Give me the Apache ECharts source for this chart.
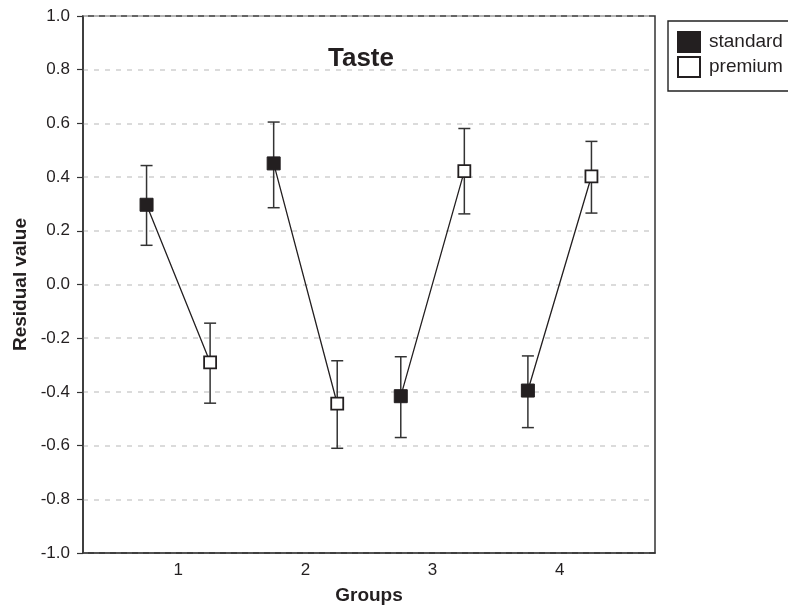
<!DOCTYPE html>
<html>
<head>
<meta charset="utf-8">
<script src="https://cdn.jsdelivr.net/npm/echarts@6/dist/echarts.min.js"></script>
<style>
  html, body { margin: 0; padding: 0; background: #fff; }
  #chart { width: 788px; height: 610px; }
</style>
</head>
<body>
<div id="chart"></div>
<script>
// Residual taste scores per group, standard vs premium, with error ranges
const groups = [1, 2, 3, 4];
const standardMean = [0.297, 0.451, -0.416, -0.395];
const standardHigh = [0.443, 0.605, -0.269, -0.266];
const standardLow  = [0.146, 0.286, -0.570, -0.533];
const premiumMean  = [-0.290, -0.444, 0.422, 0.403];
const premiumHigh  = [-0.144, -0.284, 0.581, 0.533];
const premiumLow   = [-0.442, -0.610, 0.263, 0.266];
const yTicks = [-1.0, -0.8, -0.6, -0.4, -0.2, 0.0, 0.2, 0.4, 0.6, 0.8, 1.0];

const ink = '#231f20';
const font = '"Liberation Sans", Arial, Helvetica, sans-serif';
const shift = 0.25; // standard sits left of the group, premium right

const stdPts = groups.map((g, i) => [g - shift, standardMean[i]]);
const premPts = groups.map((g, i) => [g + shift, premiumMean[i]]);

// one segment per group, broken between groups
const links = [];
groups.forEach((g, i) => {
  links.push(stdPts[i], premPts[i], '-');
});

const stdBars = groups.map((g, i) => [g - shift, standardLow[i], standardHigh[i]]);
const premBars = groups.map((g, i) => [g + shift, premiumLow[i], premiumHigh[i]]);

function errorBar(params, api) {
  const x = api.value(0);
  const top = api.coord([x, api.value(2)]);
  const bot = api.coord([x, api.value(1)]);
  const hw = 6;
  const st = { stroke: '#333', lineWidth: 1.5 };
  return {
    type: 'group',
    children: [
      { type: 'line', shape: { x1: top[0], y1: top[1], x2: bot[0], y2: bot[1] }, style: st },
      { type: 'line', shape: { x1: top[0] - hw, y1: top[1], x2: top[0] + hw, y2: top[1] }, style: st },
      { type: 'line', shape: { x1: bot[0] - hw, y1: bot[1], x2: bot[0] + hw, y2: bot[1] }, style: st }
    ]
  };
}

const chart = echarts.init(document.getElementById('chart'), null, { renderer: 'canvas' });
chart.setOption({
  animation: false,
  backgroundColor: '#fff',
  textStyle: { fontFamily: font, color: ink },
  title: {
    text: 'Taste',
    left: 323,
    top: 41,
    textStyle: { fontFamily: font, fontSize: 26, fontWeight: 'bold', color: ink }
  },
  legend: {
    data: ['standard', 'premium'],
    orient: 'vertical',
    left: 668,
    top: 21,
    icon: 'rect',
    itemWidth: 22,
    itemHeight: 20,
    itemGap: 3,
    padding: [10, 60, 13, 9],
    borderColor: '#222',
    borderWidth: 1.4,
    textStyle: { fontFamily: font, fontSize: 19, color: ink, padding: [0, 0, 0, 4] }
  },
  grid: {
    left: 83, right: 133, top: 16, bottom: 54,
    show: true, borderColor: '#333', borderWidth: 1.5, backgroundColor: 'transparent'
  },
  xAxis: {
    type: 'value',
    min: 0.25,
    max: 4.75,
    name: 'Groups',
    nameLocation: 'middle',
    nameGap: 33,
    nameTextStyle: { fontFamily: font, fontSize: 19, fontWeight: 'bold', color: ink },
    axisLine: { show: true, onZero: false, lineStyle: { color: '#333', width: 1.5 } },
    axisTick: { show: false },
    splitLine: { show: false },
    axisLabel: {
      customValues: groups,
      margin: 9,
      fontFamily: font, fontSize: 17, color: ink,
      formatter: v => String(v)
    }
  },
  yAxis: {
    type: 'value',
    min: -1,
    max: 1,
    interval: 0.2,
    name: 'Residual value',
    nameLocation: 'middle',
    nameGap: 52,
    nameTextStyle: { fontFamily: font, fontSize: 19, fontWeight: 'bold', color: ink },
    axisLine: { show: true, onZero: false, lineStyle: { color: '#333', width: 1.5 } },
    axisTick: { show: true, length: 6, lineStyle: { color: '#333', width: 1.2 } },
    splitLine: { show: true, lineStyle: { color: '#cfcfcf', width: 1.6, type: [5, 6] } },
    axisLabel: {
      customValues: yTicks,
      margin: 13,
      fontFamily: font, fontSize: 17, color: ink,
      formatter: v => v.toFixed(1)
    }
  },
  series: [
    {
      name: 'links',
      type: 'line',
      data: links,
      symbol: 'none',
      lineStyle: { color: ink, width: 1.3 },
      z: 2,
      silent: true
    },
    {
      name: 'standard-err',
      type: 'custom',
      renderItem: errorBar,
      data: stdBars,
      encode: { x: 0, y: [1, 2] },
      z: 3,
      silent: true
    },
    {
      name: 'premium-err',
      type: 'custom',
      renderItem: errorBar,
      data: premBars,
      encode: { x: 0, y: [1, 2] },
      z: 3,
      silent: true
    },
    {
      name: 'standard',
      type: 'scatter',
      data: stdPts,
      symbol: 'rect',
      symbolSize: 13,
      itemStyle: { color: ink, opacity: 1, borderColor: ink, borderWidth: 1 },
      z: 5
    },
    {
      name: 'premium',
      type: 'scatter',
      data: premPts,
      symbol: 'rect',
      symbolSize: 12,
      itemStyle: { color: '#fff', opacity: 1, borderColor: ink, borderWidth: 1.8 },
      z: 5
    }
  ]
});
</script>
</body>
</html>
